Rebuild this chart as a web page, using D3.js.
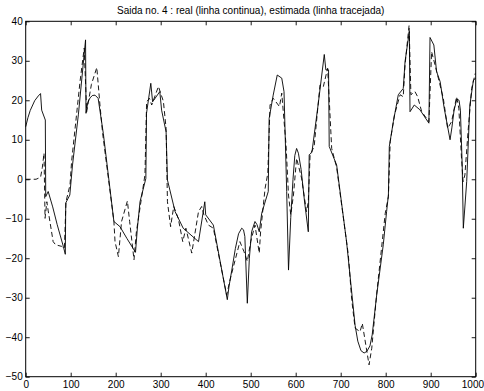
<!DOCTYPE html>
<html>
<head>
<meta charset="utf-8">
<script src="https://cdn.jsdelivr.net/npm/d3@7"></script>
<style>
  body { margin: 0; background: #fff; }
  svg text { font-family: "Liberation Sans", Arial, Helvetica, sans-serif; }
</style>
</head>
<body>
<svg id="chart"></svg>
<script>
// axis ticks
const xTicks = [0, 100, 200, 300, 400, 500, 600, 700, 800, 900, 1000];
const yTicks = [-50, -40, -30, -20, -10, 0, 10, 20, 30, 40];

// real output (solid), [sample, value]
const realPts = [
    [0, 13.3], [5, 15.6], [10, 17.4], [20, 19.9], [28, 21.1], [33, 21.7], [35.5, 17.5], [43.6, 15], [44.5, -4.4],
    [50, -3.1], [60, -7], [70, -11.5], [83.6, -17], [88, -19], [89, -6], [98, -4], [104, 3.6],
    [117, 16.3], [133, 35.3], [134, 16.7], [138, 19.5], [143, 20.6], [148, 21.2], [154, 21.3], [161, 20.5], [172.5, 11.6],
    [196, -10.7], [209.5, -12], [225, -15], [244, -18.5], [248, -12.6], [254, -5.7], [267, 0.2],
    [268.5, 16.7], [278, 24.3], [282, 19.6], [298, 22.2], [302, 17.5], [312, 12], [315, -0.2],
    [332, -8.2], [350, -12.4], [384, -15.8], [398, -5.7], [400, -9], [417, -11.6], [448, -30.5],
    [452, -27], [458, -23], [466, -17.5], [473, -13.8], [480, -12.4], [484, -12.8], [487, -14.5], [492.5, -31.4], [497, -20], [502, -13.3],
    [509.5, -10.7], [514, -11.5], [519, -13.3], [524.5, -8.6], [539, -3.1], [541, 15.4], [550, 21.3],
    [559, 26.4], [569, 25.6], [574, 22.2], [580, -3.1], [584, -23], [589, -9.7], [594, 0],
    [598, 6], [602, 7.8], [606, 6.6], [612, 2.5], [620, -6], [628, -13.3], [630, 6.2], [636, 6.8], [650, 19], [663.5, 31.6],
    [667, 27.7], [673, 27.7], [674.5, 8.3], [691, 3.6], [713, -15.8], [732, -37], [738, -41], [745, -43.4],
    [752, -44], [758, -43.6], [765, -42.2], [770, -39.4], [780, -29.3], [794.6, -16.6], [802, -8.2], [806, -4],
    [808, 8.3], [817, 14.6], [828, 21.4], [839, 23], [843, 29.8], [852.5, 37.4], [854, 17.1],
    [863.5, 18.8], [876, 17.6], [896, 14.2], [898.5, 35.9], [907, 34], [913, 27.3], [921, 24.7],
    [930, 18], [943, 10], [947, 13], [952, 17.5], [958, 20.3], [963, 20], [966, 17.5], [970, 3.6], [972.5, -12.4],
    [980, -0.6], [987, 18.8], [995, 25.1], [1000, 25.6]
];

// estimated output (dashed)
const estPts = [
    [0, 0], [23, 0], [33, 0.5], [37, 3], [40.7, 6.6], [43, -9.9], [47, -5.7], [50, -8],
    [61, -15.8], [66.5, -16.6], [80, -17], [86, -17.5], [89.5, -5.7], [98.5, -1.4], [102, 4.5],
    [120.7, 24.7], [130, 33.2], [135.5, 17.1], [146, 24], [158, 28.3], [165, 18.8], [171, 11.6],
    [196, -10.7], [198.5, -15.8], [206, -19.6], [213, -10.7], [226, -5.5], [231, -10.7],
    [240.7, -20.4], [246, -13.3], [265, 1.1], [268.7, 19.6], [275, 20.5], [280, 18.8], [295, 23.5],
    [306, 19.7], [312, 12.9], [315, -5.7], [322, -12], [329, -6.9], [339, -9.9], [349, -15.8],
    [356, -12.4], [369, -18.7], [384, -8.2], [391, -6.9], [396, -9], [406, -11.6], [417, -12.4],
    [446.6, -29.3], [454, -25.5], [476, -15.8], [485, -18.3], [492.5, -20.8], [500, -15.8],
    [509.5, -11.6], [519, -18.7], [522, -13.3], [532, -2.3], [538, 1.5], [543, 18.8], [550, 20.5],
    [564, 18.4], [569, 21.8], [578.5, 8.7], [584, -4], [589, -9], [595, -4], [602, 5.3],
    [613, 0.3], [624, -8.2], [628, -5.7], [632, 6.2], [641, 8.3], [654, 23.9], [661.5, 23.5],
    [671, 28.1], [680, 7.8], [691, 3], [717, -19.2], [724.5, -30.5], [732, -37.7], [743, -38.6],
    [748, -36.5], [754, -40.7], [763, -47], [769, -42.8], [780, -29], [799, -8.6], [806, -4.4],
    [810, 9.5], [819.5, 16.3], [832, 21.4], [839, 20.9], [843, 29], [852, 39], [856, 21.4],
    [865, 22.2], [871, 20.9], [880, 17.1], [896, 14.6], [902, 32.3], [909.5, 29], [917, 25.6],
    [928, 20.5], [937.6, 12.9], [946.5, 14.6], [957.5, 20.9], [962.5, 18], [968.5, 5.3],
    [972, -0.6], [976, 1.1], [983, 12.1], [991, 23], [999, 26.8]
];

const titleText = "Saida no. 4 : real (linha continua), estimada (linha tracejada)";

const W = 484, H = 391;
const margin = { top: 21.3, right: 8.3, bottom: 14.3, left: 25.7 };
const width = W - margin.left - margin.right;
const height = H - margin.top - margin.bottom;

const svg = d3.select("#chart").attr("width", W).attr("height", H);

const x = d3.scaleLinear().domain([0, 1000]).range([0, width]);
const y = d3.scaleLinear().domain([-50, 40]).range([height, 0]);

const g = svg.append("g").attr("transform", `translate(${margin.left},${margin.top})`);

const line = d3.line().x(d => x(d[0])).y(d => y(d[1]));

g.append("path")
    .datum(realPts)
    .attr("fill", "none")
    .attr("stroke", "#000")
    .attr("stroke-width", 0.9)
    .attr("d", line);

g.append("path")
    .datum(estPts)
    .attr("fill", "none")
    .attr("stroke", "#000")
    .attr("stroke-width", 0.9)
    .attr("stroke-dasharray", "5,3")
    .attr("d", line);

const fmt = d => d < 0 ? "\u2212" + Math.abs(d) : String(d);

// axes with inward ticks, MATLAB style box
const styleAxis = sel => {
    sel.select(".domain").remove();
    sel.selectAll("line").attr("stroke", "#000").attr("stroke-width", 0.9);
    sel.selectAll("text").attr("fill", "#000").style("font-size", "10px");
};

const xAxisG = g.append("g")
    .attr("transform", `translate(0,${height})`)
    .call(d3.axisBottom(x).tickValues(xTicks).tickFormat(fmt).tickSizeInner(-4).tickSizeOuter(0).tickPadding(4))
    .call(styleAxis);

// last label would run past the window edge; keep it inside
xAxisG.selectAll(".tick text")
    .filter(d => d === 1000)
    .attr("text-anchor", "end")
    .attr("x", margin.right - 0.5);

g.append("g")
    .call(d3.axisTop(x).tickValues(xTicks).tickFormat("").tickSizeInner(-4).tickSizeOuter(0))
    .call(styleAxis);

g.append("g")
    .call(d3.axisLeft(y).tickValues(yTicks).tickFormat(fmt).tickSizeInner(-4).tickSizeOuter(0).tickPadding(3))
    .call(styleAxis);

g.append("g")
    .attr("transform", `translate(${width},0)`)
    .call(d3.axisRight(y).tickValues(yTicks).tickFormat("").tickSizeInner(-4).tickSizeOuter(0))
    .call(styleAxis);

g.append("rect")
    .attr("width", width)
    .attr("height", height)
    .attr("fill", "none")
    .attr("stroke", "#000")
    .attr("stroke-width", 1);

svg.append("text")
    .attr("x", margin.left + width / 2)
    .attr("y", 14)
    .attr("text-anchor", "middle")
    .style("font-size", "10px")
    .text(titleText);
</script>
</body>
</html>
